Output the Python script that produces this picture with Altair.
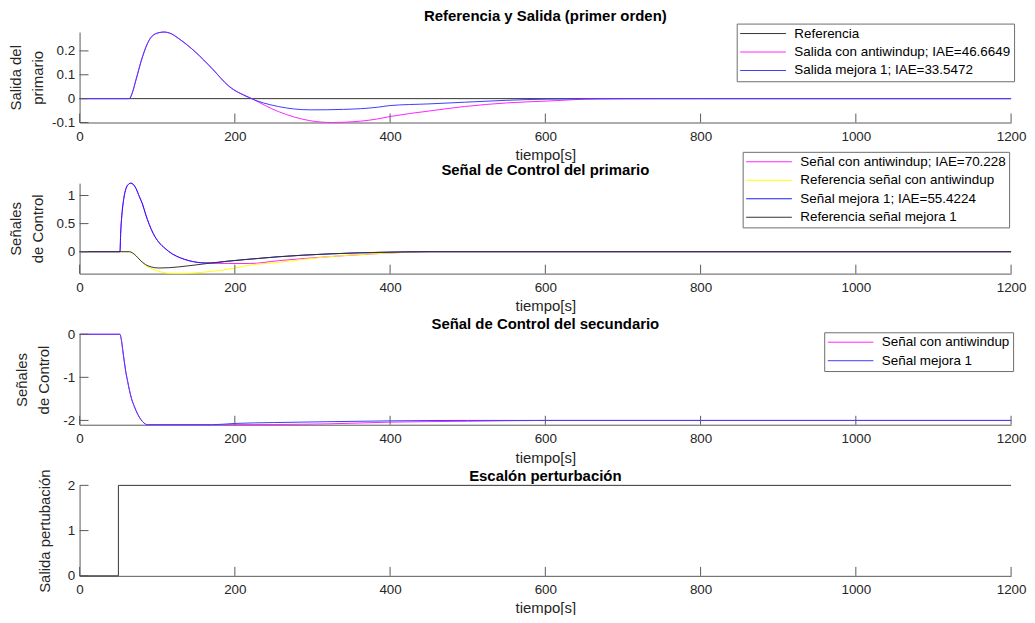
import altair as alt
import pandas as pd

FONT = "Liberation Sans"

# ---------------- ticks ----------------
x_ticks = [0, 200, 400, 600, 800, 1000, 1200]
p1_yticks = [-0.1, 0, 0.1, 0.2]
p2_yticks = [0, 0.5, 1]
p3_yticks = [-2, -1, 0]
p4_yticks = [0, 1, 2]

# ---------------- panel 1 : Referencia y Salida ----------------
p1_ref_t = [0, 1200]
p1_ref_v = [0, 0]
p1_mej_t = [0, 64, 68, 72.6, 81, 89.6, 98, 109, 118, 128, 149, 170.7, 192, 217.7, 256, 298, 340, 384, 400, 450, 496, 550, 603, 650, 700, 800, 1200]
p1_mej_v = [0, 0, 0.025, 0.078, 0.175, 0.245, 0.272, 0.279, 0.272, 0.251, 0.196, 0.126, 0.053, 0.005, -0.033, -0.047, -0.045, -0.036, -0.029, -0.022, -0.015, -0.007, -0.002, -0.001, 0, 0, 0]
p1_anti_t = [0, 64, 68, 72.6, 81, 89.6, 98, 109, 118, 128, 149, 170.7, 192, 222, 256, 298, 325, 340, 384, 400, 450, 496, 550, 603, 667, 750, 1200]
p1_anti_v = [0, 0, 0.025, 0.078, 0.175, 0.245, 0.272, 0.279, 0.272, 0.251, 0.196, 0.126, 0.053, 0, -0.054, -0.093, -0.1, -0.099, -0.085, -0.075, -0.052, -0.033, -0.018, -0.01, -0.001, 0, 0]

# ---------------- panel 2 : Senal de control del primario ----------------
p2_mej_t = [0, 52, 53, 54.6, 57, 59.7, 63, 66, 69, 72.5, 77, 81, 85, 89.6, 95, 102, 110, 119.5, 130, 141, 152, 162, 170, 190, 213, 256, 320, 390, 450, 1200]
p2_mej_v = [0, 0, 0.35, 0.67, 0.95, 1.12, 1.2, 1.22, 1.2, 1.13, 0.98, 0.85, 0.67, 0.49, 0.32, 0.17, 0.06, -0.04, -0.11, -0.16, -0.19, -0.2, -0.2, -0.17, -0.14, -0.09, -0.04, -0.01, 0, 0]
p2_refmej_t = [0, 64, 68, 72.5, 78, 85, 92, 102, 115, 128, 150, 170, 190, 213, 256, 320, 390, 450, 1200]
p2_refmej_v = [0, 0, -0.02, -0.07, -0.15, -0.23, -0.27, -0.29, -0.285, -0.27, -0.235, -0.2, -0.17, -0.14, -0.09, -0.04, -0.01, 0, 0]
p2_anti_t = [0, 52, 53, 54.6, 57, 59.7, 63, 66, 69, 72.5, 77, 81, 85, 89.6, 95, 102, 110, 119.5, 130, 141, 152, 162, 192, 219, 256, 290, 320, 390, 453, 1200]
p2_anti_v = [0, 0, 0.35, 0.67, 0.95, 1.12, 1.2, 1.22, 1.2, 1.13, 0.98, 0.85, 0.67, 0.49, 0.32, 0.17, 0.06, -0.04, -0.11, -0.16, -0.19, -0.2, -0.21, -0.21, -0.16, -0.12, -0.09, -0.03, 0, 0]
p2_refanti_t = [0, 64, 68, 72.5, 78, 85, 94, 105, 115, 128, 140, 155, 171, 200.6, 219, 256, 320, 390, 453, 1200]
p2_refanti_v = [0, 0, -0.02, -0.07, -0.15, -0.24, -0.31, -0.36, -0.385, -0.39, -0.385, -0.37, -0.35, -0.29, -0.24, -0.19, -0.09, -0.03, 0, 0]

# ---------------- panel 3 : Senal de control del secundario ----------------
p3_mej_t = [0, 52, 54, 55.5, 57.5, 59.7, 62, 64, 67, 70.4, 75, 79, 83, 87, 170, 200, 250, 320, 400, 500, 1200]
p3_mej_v = [0, 0, -0.15, -0.35, -0.62, -0.89, -1.1, -1.28, -1.5, -1.67, -1.86, -1.98, -2.06, -2.1, -2.1, -2.07, -2.05, -2.03, -2.01, -2.0, -2.0]
p3_anti_t = [0, 52, 54, 55.5, 57.5, 59.7, 62, 64, 67, 70.4, 75, 79, 83, 87, 170, 250, 320, 400, 500, 600, 1200]
p3_anti_v = [0, 0, -0.15, -0.35, -0.62, -0.89, -1.1, -1.28, -1.5, -1.67, -1.86, -1.98, -2.06, -2.1, -2.1, -2.095, -2.08, -2.04, -2.02, -2.0, -2.0]

# ---------------- panel 4 : Escalon perturbacion ----------------
p4_t = [0, 50, 50, 1200]
p4_v = [0, 0, 2, 2]

BLUE = "#3c3cff"
MAG = "#ff22ff"
YEL = "#ffff00"
BLK = "#333333"
AXC = "#5a5a5a"
TXT = "#262626"

W, H = 937, 91


def df_of(t, v, name):
    return pd.DataFrame({"t": t, "v": v, "serie": name})


def legend(x, y):
    return alt.Legend(
        title=None, orient="none", legendX=x, legendY=y,
        symbolType="stroke", symbolSize=2116, symbolStrokeWidth=1,
        clipHeight=14, rowPadding=4.6, padding=3, labelOffset=8,
        labelFontSize=13.5, labelFont=FONT, labelColor="#000000", labelLimit=500,
        strokeColor="#6e6e6e", fillColor="white", cornerRadius=0,
    )


def x_enc(tpad=5):
    return alt.X("t:Q", scale=alt.Scale(domain=[0, 1200], nice=False, zero=False),
                 axis=alt.Axis(values=x_ticks, title="tiempo[s]", labelPadding=7,
                               titlePadding=tpad, format="d", labelFlush=False,
                               labelOverlap=False))


def y_enc(domain, ticks, title, tpad):
    return alt.Y("v:Q", scale=alt.Scale(domain=domain, nice=False, zero=False),
                 axis=alt.Axis(values=ticks, title=title, labelPadding=5, titlePadding=tpad,
                               format="~g", labelOverlap=False, labelFlush=False,
                               labelExpr="replace(datum.label, '\u2212', '-')"))


def tick_layers(domain, yticks, ytitle, tpad, xpad=5):
    xt = alt.Chart(pd.DataFrame({"t": x_ticks})).mark_rule(color=AXC, strokeWidth=1).encode(
        x=x_enc(xpad), y=alt.value(H), y2=alt.value(H - 9))
    yt = alt.Chart(pd.DataFrame({"v": yticks})).mark_rule(color=AXC, strokeWidth=1).encode(
        y=y_enc(domain, yticks, ytitle, tpad), x=alt.value(0), x2=alt.value(9))
    return [xt, yt]


def ttl(text, dy):
    return alt.TitleParams(text, fontSize=15, fontWeight="bold", font=FONT,
                           color="#000000", offset=7, dy=dy)


def panel(series, draw_order, names, colors, leg, domain, yticks, ytitle, tpad, title, dy):
    layers = []
    for name in draw_order:
        t, v, interp = series[name]
        layers.append(
            alt.Chart(df_of(t, v, name)).mark_line(strokeWidth=1, interpolate=interp).encode(
                x=x_enc(),
                y=y_enc(domain, yticks, ytitle, tpad),
                color=alt.Color("serie:N", scale=alt.Scale(domain=names, range=colors), legend=leg),
            )
        )
    layers += tick_layers(domain, yticks, ytitle, tpad)
    return alt.layer(*layers).properties(width=W, height=H, title=ttl(title, dy))


# panel 1
n1 = ["Referencia", "Salida con antiwindup; IAE=46.6649", "Salida mejora 1; IAE=33.5472"]
s1 = {
    n1[0]: (p1_ref_t, p1_ref_v, "linear"),
    n1[1]: (p1_anti_t, p1_anti_v, "monotone"),
    n1[2]: (p1_mej_t, p1_mej_v, "monotone"),
}
c1 = panel(s1, [n1[0], n1[1], n1[2]], n1, [BLK, MAG, BLUE], legend(661, -8.5),
           [-0.1, 0.279], p1_yticks, ["Salida del", "primario"], 6,
           "Referencia y Salida (primer orden)", 7.5)

# panel 2
n2 = ["Señal con antiwindup; IAE=70.228", "Referencia señal con antiwindup",
      "Señal mejora 1; IAE=55.4224", "Referencia señal mejora 1"]
s2 = {
    n2[0]: (p2_anti_t, p2_anti_v, "monotone"),
    n2[1]: (p2_refanti_t, p2_refanti_v, "monotone"),
    n2[2]: (p2_mej_t, p2_mej_v, "monotone"),
    n2[3]: (p2_refmej_t, p2_refmej_v, "monotone"),
}
c2 = panel(s2, n2, n2, [MAG, YEL, "#1a1aff", BLK], legend(667, -31.5),
           [-0.39, 1.22], p2_yticks, ["Señales", "de Control"], 11,
           "Señal de Control del primario", 33.5)

# panel 3
n3 = ["Señal con antiwindup", "Señal mejora 1"]
s3 = {
    n3[0]: (p3_anti_t, p3_anti_v, "monotone"),
    n3[1]: (p3_mej_t, p3_mej_v, "monotone"),
}
c3 = panel(s3, n3, n3, [MAG, BLUE], legend(749, -2),
           [-2.1, 0], p3_yticks, ["Señales", "de Control"], 11,
           "Señal de Control del secundario", 12)

# panel 4
c4 = alt.layer(
    alt.Chart(df_of(p4_t, p4_v, "Escalón")).mark_line(strokeWidth=1, color="#333333").encode(
        x=x_enc(4), y=y_enc([0, 2], p4_yticks, "Salida pertubación", 14.5)),
    *tick_layers([0, 2], p4_yticks, "Salida pertubación", 14.5, 4),
).properties(width=W, height=H, title=ttl("Escalón perturbación", 22))

chart = alt.vconcat(c1, c2, c3, c4, spacing=61, bounds="flush").resolve_scale(
    color="independent", y="independent", x="independent"
).properties(
    padding={"left": 0, "top": -1.6, "right": 0, "bottom": -2}
).configure_view(stroke=None).configure_axis(
    labelFont=FONT, titleFont=FONT, labelFontSize=13.5, titleFontSize=15,
    titleFontWeight="normal", labelColor=TXT, titleColor=TXT, domainColor=AXC,
    domainWidth=1, ticks=False, grid=False, titleLineHeight=22, labelOverlap=False,
).configure_legend(symbolStrokeWidth=1)

chart.save("out.html", embed_options={"renderer": "svg", "actions": False})
